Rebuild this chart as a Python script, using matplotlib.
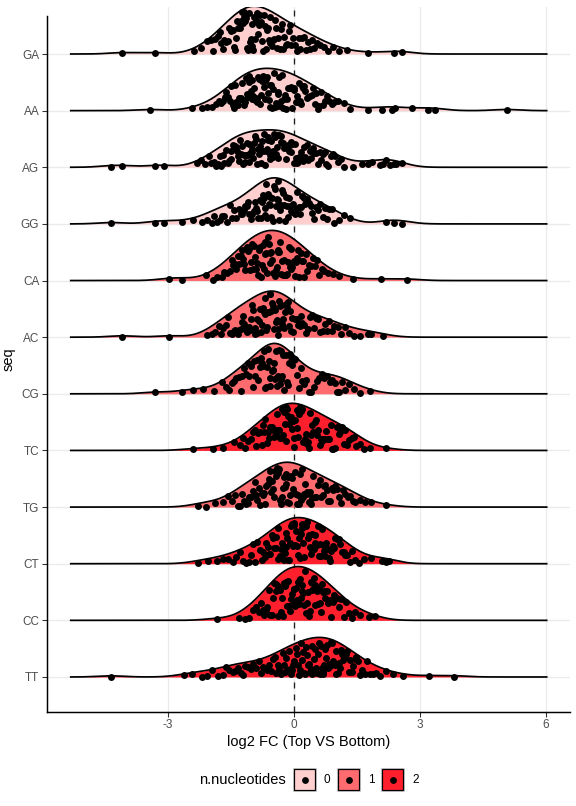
import numpy as np
import matplotlib
matplotlib.use("Agg")
import matplotlib.pyplot as plt
from matplotlib.patches import Rectangle

plt.rcParams['font.family'] = ['Liberation Sans', 'DejaVu Sans']

# Sequences from bottom (TT) to top (GA)
seqs = ["TT", "CC", "CT", "TG", "TC", "CG", "AC", "CA", "GG", "AG", "AA", "GA"]
n_nucleotides = [2, 2, 2, 1, 2, 1, 1, 1, 0, 0, 0, 0]
fill_colors = {0: "#FFCFCF", 1: "#FF6B6F", 2: "#FF1F2D"}

# log2 FC values, one list per sequence
ga = [-4.09, -3.31, -2.38, -2.21, -2.06, -1.98, -1.93, -1.87, -1.81, -1.77,
      -1.73, -1.7, -1.66, -1.62, -1.58, -1.55, -1.51,
      -1.49, -1.46, -1.44, -1.41, -1.39, -1.36, -1.33, -1.31, -1.28, -1.26,
      -1.24, -1.22, -1.2, -1.18, -1.16, -1.14, -1.12, -1.09, -1.07, -1.05, -1.03, -1.01,
      -0.99, -0.97, -0.95, -0.93, -0.91, -0.89, -0.87, -0.85, -0.83, -0.81, -0.79, -0.77,
      -0.74, -0.72, -0.69, -0.67, -0.65, -0.62, -0.6, -0.58, -0.56, -0.53, -0.51,
      -0.48, -0.46, -0.43, -0.4, -0.37, -0.34, -0.31, -0.29, -0.26,
      -0.23, -0.2, -0.16, -0.13, -0.09, -0.06, -0.02,
      0.02, 0.06, 0.11, 0.15, 0.19, 0.24, 0.28, 0.33, 0.38, 0.43, 0.48,
      0.55, 0.63, 0.72, 0.8, 0.93, 1.08, 1.27, 1.77, 2.37, 2.56]

aa = [-3.44, -2.42, -2.2, -2.06, -1.95, -1.86, -1.78,
      -1.73, -1.69, -1.65, -1.61, -1.57, -1.53,
      -1.49, -1.46, -1.43, -1.4, -1.37, -1.34, -1.31, -1.28, -1.26,
      -1.24, -1.22, -1.19, -1.17, -1.15, -1.12, -1.1, -1.08, -1.06, -1.03, -1.01,
      -0.99, -0.97, -0.95, -0.93, -0.91, -0.89, -0.87, -0.85, -0.83, -0.81, -0.79, -0.77,
      -0.74, -0.72, -0.7, -0.68, -0.66, -0.64, -0.62, -0.6, -0.58, -0.56, -0.54, -0.52,
      -0.49, -0.47, -0.45, -0.43, -0.41, -0.39, -0.37, -0.35, -0.33, -0.31, -0.29, -0.27,
      -0.24, -0.22, -0.2, -0.17, -0.15, -0.13, -0.1, -0.08, -0.06, -0.04, -0.01,
      0.01, 0.04, 0.06, 0.09, 0.12, 0.14, 0.17, 0.19, 0.22, 0.24,
      0.27, 0.31, 0.34, 0.38, 0.42, 0.45, 0.49,
      0.52, 0.56, 0.6, 0.64, 0.68, 0.73, 0.78, 0.84, 0.9, 0.96,
      1.05, 1.18, 1.33, 1.77, 2.09, 2.33, 2.4, 2.8, 3.2, 3.36, 5.06]

ag = [-4.36, -4.09, -3.31, -3.1, -2.32, -2.22, -2.12, -2.03,
      -1.97, -1.91, -1.86, -1.81, -1.76,
      -1.73, -1.69, -1.66, -1.62, -1.58, -1.55, -1.51,
      -1.49, -1.46, -1.44, -1.41, -1.38, -1.36, -1.33, -1.31, -1.28, -1.26,
      -1.24, -1.22, -1.19, -1.17, -1.15, -1.13, -1.1, -1.08, -1.06, -1.04, -1.01,
      -0.99, -0.97, -0.95, -0.92, -0.9, -0.88, -0.86, -0.83, -0.81, -0.79, -0.76,
      -0.74, -0.72, -0.7, -0.67, -0.65, -0.63, -0.61, -0.58, -0.56, -0.54, -0.51,
      -0.49, -0.47, -0.45, -0.43, -0.41, -0.39, -0.37, -0.35, -0.32, -0.3, -0.28, -0.26,
      -0.24, -0.22, -0.19, -0.17, -0.15, -0.13, -0.1, -0.08, -0.06, -0.04, -0.01,
      0.02, 0.04, 0.07, 0.1, 0.13, 0.16, 0.19, 0.21, 0.24,
      0.27, 0.31, 0.34, 0.38, 0.41, 0.45, 0.48,
      0.52, 0.56, 0.61, 0.65, 0.69, 0.73, 0.77, 0.82, 0.87, 0.92, 0.97,
      1.04, 1.12, 1.2, 1.41, 1.63, 1.77, 1.86,
      2.05, 2.13, 2.18, 2.29, 2.37, 2.44, 2.56]

gg = [-4.36, -3.31, -3.1, -2.67, -2.41, -2.19, -2.06,
      -1.96, -1.9, -1.83, -1.77, -1.72, -1.66, -1.59, -1.53,
      -1.48, -1.43, -1.38, -1.32, -1.27,
      -1.23, -1.2, -1.16, -1.13, -1.09, -1.06, -1.02,
      -0.99, -0.96, -0.93, -0.9, -0.88, -0.85, -0.82, -0.79, -0.76,
      -0.74, -0.72, -0.7, -0.68, -0.66, -0.64, -0.62, -0.6, -0.58, -0.56, -0.54, -0.52,
      -0.49, -0.47, -0.45, -0.43, -0.41, -0.39, -0.37, -0.35, -0.33, -0.31, -0.29, -0.27,
      -0.24, -0.22, -0.19, -0.17, -0.14, -0.12, -0.09, -0.07, -0.04, -0.02,
      0.02, 0.05, 0.08, 0.11, 0.14, 0.17, 0.2, 0.23,
      0.27, 0.31, 0.36, 0.4, 0.44, 0.48,
      0.53, 0.58, 0.63, 0.68, 0.73, 0.78, 0.84, 0.9, 0.96,
      1.06, 1.18, 1.34, 2.2, 2.38, 2.56]

ca = [-2.97, -2.67, -2.1, -1.92, -1.84,
      -1.72, -1.66, -1.59, -1.53,
      -1.48, -1.45, -1.41, -1.37, -1.34, -1.3, -1.27,
      -1.24, -1.21, -1.18, -1.16, -1.13, -1.1, -1.07, -1.04, -1.02,
      -0.99, -0.97, -0.95, -0.92, -0.9, -0.88, -0.85, -0.83, -0.81, -0.78, -0.76,
      -0.74, -0.72, -0.7, -0.68, -0.66, -0.64, -0.62, -0.6, -0.58, -0.56, -0.54, -0.52,
      -0.49, -0.47, -0.45, -0.43, -0.41, -0.39, -0.37, -0.35, -0.33, -0.31, -0.29, -0.27,
      -0.24, -0.22, -0.2, -0.17, -0.15, -0.13, -0.1, -0.08, -0.06, -0.04, -0.01,
      0.02, 0.05, 0.07, 0.1, 0.13, 0.16, 0.19, 0.21, 0.24,
      0.28, 0.32, 0.36, 0.41, 0.45, 0.49,
      0.54, 0.6, 0.66, 0.72, 0.8, 0.92, 1.08, 1.4, 2.06, 2.7]

ac = [-4.09, -2.97, -2.08, -1.96, -1.88, -1.79,
      -1.73, -1.68, -1.62, -1.57, -1.52,
      -1.48, -1.44, -1.41, -1.37, -1.34, -1.3, -1.27,
      -1.24, -1.21, -1.18, -1.15, -1.11, -1.08, -1.05, -1.02,
      -0.99, -0.97, -0.94, -0.92, -0.89, -0.87, -0.84, -0.82, -0.79, -0.77,
      -0.74, -0.72, -0.7, -0.68, -0.66, -0.64, -0.62, -0.6, -0.58, -0.56, -0.54, -0.52,
      -0.49, -0.47, -0.45, -0.43, -0.41, -0.39, -0.37, -0.35, -0.33, -0.31, -0.29, -0.27,
      -0.24, -0.22, -0.19, -0.17, -0.14, -0.12, -0.09, -0.07, -0.04, -0.02,
      0.03, 0.07, 0.1, 0.14, 0.17, 0.2, 0.24,
      0.29, 0.34, 0.39, 0.44, 0.48,
      0.53, 0.58, 0.63, 0.68, 0.73, 0.78, 0.84, 0.9, 0.96,
      1.04, 1.13, 1.21, 1.3, 1.42, 1.57, 1.77, 1.83, 2.13]

cg = [-3.31, -2.67, -2.4, -2.16, -1.9,
      -1.71, -1.62, -1.54,
      -1.47, -1.42, -1.37, -1.32, -1.27,
      -1.23, -1.19, -1.15, -1.1, -1.06, -1.02,
      -0.98, -0.95, -0.92, -0.89, -0.85, -0.82, -0.79, -0.76,
      -0.74, -0.72, -0.69, -0.67, -0.65, -0.62, -0.6, -0.58, -0.56, -0.53, -0.51,
      -0.49, -0.47, -0.46, -0.44, -0.42, -0.4, -0.38, -0.36, -0.34, -0.32, -0.3, -0.28, -0.26,
      -0.23, -0.2, -0.17, -0.14, -0.12, -0.09, -0.06, -0.04, -0.01,
      0.03, 0.08, 0.12, 0.16, 0.2, 0.24,
      0.29, 0.35, 0.41, 0.47,
      0.54, 0.6, 0.66, 0.72, 0.79, 0.85, 0.91, 0.97,
      1.02, 1.08, 1.14, 1.21, 1.3, 1.42, 1.58, 1.81]

tc = [-2.4, -1.92, -1.68, -1.44, -1.29,
      -1.22, -1.16, -1.09, -1.03,
      -0.98, -0.94, -0.9, -0.85, -0.81, -0.77,
      -0.74, -0.71, -0.68, -0.65, -0.62, -0.59, -0.56, -0.52,
      -0.49, -0.47, -0.45, -0.43, -0.4, -0.38, -0.35, -0.33, -0.31, -0.28, -0.26,
      -0.24, -0.22, -0.2, -0.18, -0.16, -0.14, -0.11, -0.09, -0.07, -0.05, -0.03, -0.01,
      0.01, 0.03, 0.06, 0.08, 0.1, 0.13, 0.15, 0.17, 0.2, 0.22, 0.24,
      0.26, 0.29, 0.31, 0.34, 0.36, 0.39, 0.41, 0.44, 0.46, 0.49,
      0.52, 0.55, 0.58, 0.61, 0.64, 0.67, 0.7, 0.73,
      0.77, 0.8, 0.84, 0.87, 0.91, 0.94, 0.98,
      1.02, 1.06, 1.1, 1.14, 1.18, 1.22,
      1.27, 1.32, 1.37, 1.42, 1.47, 1.56, 1.66, 1.8, 2.2]

tg = [-2.28, -2.1, -1.88, -1.7, -1.56,
      -1.47, -1.41, -1.34, -1.28,
      -1.23, -1.19, -1.14, -1.1, -1.06, -1.02,
      -0.98, -0.94, -0.91, -0.87, -0.84, -0.8, -0.77,
      -0.74, -0.71, -0.69, -0.66, -0.63, -0.6, -0.58, -0.55, -0.52,
      -0.49, -0.47, -0.45, -0.42, -0.4, -0.38, -0.35, -0.33, -0.31, -0.28, -0.26,
      -0.24, -0.22, -0.2, -0.18, -0.16, -0.14, -0.11, -0.09, -0.07, -0.05, -0.03, -0.01,
      0.02, 0.04, 0.07, 0.09, 0.12, 0.14, 0.17, 0.19, 0.22, 0.24,
      0.27, 0.3, 0.32, 0.35, 0.38, 0.41, 0.44, 0.46, 0.49,
      0.53, 0.57, 0.61, 0.64, 0.68, 0.71, 0.74,
      0.78, 0.82, 0.86, 0.9, 0.94, 0.98,
      1.02, 1.07, 1.12, 1.17, 1.22,
      1.28, 1.34, 1.4, 1.46, 1.56, 1.68, 1.84, 2.2]

ct = [-2.28, -2.05, -1.84, -1.7, -1.56,
      -1.46, -1.37, -1.28,
      -1.22, -1.15, -1.08, -1.02,
      -0.98, -0.93, -0.88, -0.82, -0.77,
      -0.74, -0.7, -0.67, -0.63, -0.6, -0.56, -0.52,
      -0.49, -0.47, -0.44, -0.42, -0.39, -0.37, -0.34, -0.31, -0.29, -0.26,
      -0.24, -0.22, -0.2, -0.18, -0.16, -0.14, -0.11, -0.09, -0.07, -0.05, -0.03, -0.01,
      0.01, 0.03, 0.05, 0.07, 0.09, 0.11, 0.14, 0.16, 0.18, 0.2, 0.22, 0.24,
      0.26, 0.28, 0.31, 0.33, 0.35, 0.38, 0.4, 0.42, 0.44, 0.47, 0.49,
      0.51, 0.54, 0.56, 0.59, 0.61, 0.64, 0.66, 0.69, 0.71, 0.74,
      0.77, 0.8, 0.83, 0.86, 0.89, 0.92, 0.95, 0.98,
      1.02, 1.06, 1.1, 1.14, 1.18, 1.22,
      1.27, 1.33, 1.39, 1.45, 1.55, 1.67, 1.84, 2.1, 2.18, 2.25]

cc = [-1.84, -1.3, -1.17, -1.06,
      -0.97, -0.91, -0.84, -0.78,
      -0.74, -0.71, -0.67, -0.64, -0.6, -0.56, -0.53,
      -0.49, -0.47, -0.44, -0.42, -0.39, -0.37, -0.34, -0.31, -0.29, -0.26,
      -0.24, -0.22, -0.2, -0.18, -0.16, -0.14, -0.11, -0.09, -0.07, -0.05, -0.03, -0.01,
      0.01, 0.03, 0.05, 0.07, 0.09, 0.11, 0.14, 0.16, 0.18, 0.2, 0.22, 0.24,
      0.26, 0.28, 0.31, 0.33, 0.35, 0.38, 0.4, 0.42, 0.44, 0.47, 0.49,
      0.51, 0.54, 0.56, 0.59, 0.61, 0.64, 0.66, 0.69, 0.71, 0.74,
      0.78, 0.81, 0.85, 0.88, 0.92, 0.95, 0.98,
      1.03, 1.08, 1.13, 1.18, 1.23,
      1.3, 1.38, 1.46, 1.58, 1.78, 1.93]

tt = [-4.36, -2.62, -2.44, -2.2, -2.08, -1.95, -1.82,
      -1.7, -1.62, -1.54, -1.46, -1.4, -1.33, -1.27,
      -1.22, -1.16, -1.09, -1.03, -0.97, -0.91, -0.84, -0.78,
      -0.74, -0.69, -0.64, -0.59, -0.54,
      -0.49, -0.46, -0.42, -0.39, -0.35, -0.31, -0.27,
      -0.24, -0.21, -0.19, -0.16, -0.13, -0.1, -0.07, -0.05, -0.02,
      0.01, 0.04, 0.06, 0.09, 0.11, 0.14, 0.16, 0.19, 0.21, 0.24,
      0.26, 0.28, 0.31, 0.33, 0.35, 0.38, 0.4, 0.42, 0.44, 0.47, 0.49,
      0.51, 0.53, 0.55, 0.57, 0.59, 0.61, 0.64, 0.66, 0.68, 0.7, 0.72, 0.74,
      0.76, 0.78, 0.81, 0.83, 0.85, 0.88, 0.9, 0.92, 0.94, 0.97, 0.99,
      1.01, 1.04, 1.06, 1.09, 1.11, 1.14, 1.16, 1.19, 1.21, 1.24,
      1.27, 1.31, 1.34, 1.38, 1.41, 1.45, 1.48,
      1.53, 1.58, 1.63, 1.68, 1.73, 1.8, 1.88, 1.95,
      2.05, 2.18, 2.35, 2.6, 3.22, 3.82]

values = [tt, cc, ct, tg, tc, cg, ac, ca, gg, ag, aa, ga]


def bw_nrd0(x):
    x = np.asarray(x)
    sd = x.std(ddof=1)
    iqr = np.subtract(*np.percentile(x, [75, 25]))
    return 0.9 * min(sd, iqr / 1.34) * len(x) ** -0.2


def kde(x, grid, bw):
    x = np.asarray(x)[:, None]
    z = (grid[None, :] - x) / bw
    return np.exp(-0.5 * z ** 2).sum(axis=0) / (len(x) * bw * np.sqrt(2 * np.pi))


# joint bandwidth, like ggridges
bw = np.mean([bw_nrd0(v) for v in values])
all_vals = np.concatenate(values)
grid = np.linspace(all_vals.min() - 3 * bw, all_vals.max() + 3 * bw, 512)
dens = [kde(v, grid, bw) for v in values]
scale = 0.95 / max(d.max() for d in dens)

W, H, DPI = 576, 806, 96
fig = plt.figure(figsize=(W / DPI, H / DPI), dpi=DPI)

span = grid[-1] - grid[0]
xlo, xhi = grid[0] - 0.05 * span, grid[-1] + 0.05 * span
px_per_unit = 42.0
x0_px = 294.0
left_px = x0_px + px_per_unit * xlo
right_px = x0_px + px_per_unit * xhi
top_px, bottom_px = 7.0, 711.7
ax = fig.add_axes([left_px / W, 1 - bottom_px / H,
                   (right_px - left_px) / W, (bottom_px - top_px) / H])

ylo, yhi = 0.387, len(seqs) + 0.83
ax.set_xlim(xlo, xhi)
ax.set_ylim(ylo, yhi)

# grid lines
for xv in [-3, 0, 3, 6]:
    ax.axvline(xv, color="#EBEBEB", lw=1.0, zorder=0)
for i in range(len(seqs)):
    ax.axhline(i + 1, color="#EBEBEB", lw=1.0, zorder=0)

ax.axvline(0, color="#222222", lw=1.0, ls=(0, (4.5, 4.5)), zorder=1)

# vertical jitter of the points inside each ridge
rng = np.random.default_rng(11)
for i, (name, v, d) in enumerate(zip(seqs, values, dens)):
    base = i + 1
    h = d * scale
    col = fill_colors[n_nucleotides[i]]
    ax.fill_between(grid, base, base + h, color=col, lw=0, zorder=2 + i * 0.01)
    ax.plot(grid, base + h, color="black", lw=1.3, zorder=3 + i * 0.01)
    xs = np.asarray(v)
    hx = np.interp(xs, grid, h)
    ys = base + rng.uniform(0.05, 0.95, len(xs)) * hx
    ax.scatter(xs, ys, s=27, color="black", lw=0, zorder=4 + i * 0.01)

ax.set_yticks(range(1, len(seqs) + 1))
ax.set_yticklabels(seqs)
ax.set_xticks([-3, 0, 3, 6])
ax.set_xticklabels(["-3", "0", "3", "6"])
ax.tick_params(axis="both", labelsize=8.8, labelcolor="#4D4D4D", color="#333333",
               length=3.5, width=0.8, pad=2.2)
for side in ["top", "right"]:
    ax.spines[side].set_visible(False)
for side in ["left", "bottom"]:
    ax.spines[side].set_linewidth(1.1)
    ax.spines[side].set_color("black")
# left axis line stops a little below the panel top, as in the reference
ax.spines["left"].set_bounds(ylo, len(seqs) + (54 - 16) / 56.64)
ax.set_xlabel("log2 FC (Top VS Bottom)", fontsize=11, labelpad=3)
ax.set_ylabel("seq", fontsize=11, labelpad=4)

# legend drawn by hand at the bottom (pixel coordinates)
lax = fig.add_axes([0, 0, 1, 1], facecolor="none")
lax.set_xlim(0, W)
lax.set_ylim(H, 0)
lax.axis("off")
ly = 780
lax.text(286, ly, "n.nucleotides", fontsize=11, ha="right", va="center")
for k, lev in enumerate([0, 1, 2]):
    bx = 294 + k * 44
    lax.add_patch(Rectangle((bx - 1, ly - 12), 23, 23, fc="none", ec="#C8C8C8", lw=0.8))
    lax.add_patch(Rectangle((bx, ly - 11), 21, 21, fc=fill_colors[lev], ec="black", lw=0.9))
    lax.scatter([bx + 10.5], [ly - 0.5], s=26, color="black", lw=0)
    lax.text(bx + 30, ly, str(lev), fontsize=8.8, ha="left", va="center")

fig.savefig("out.png", dpi=DPI)
